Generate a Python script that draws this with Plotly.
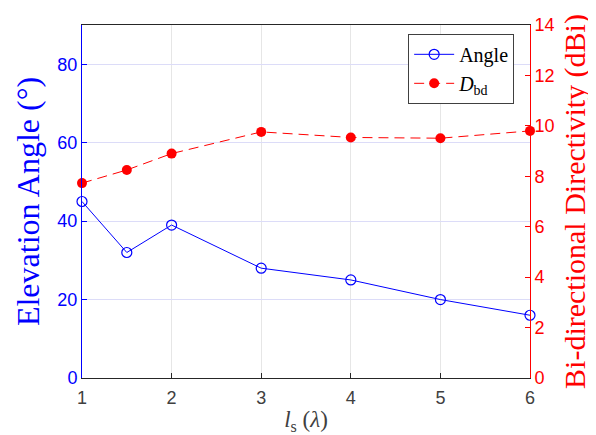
import plotly.graph_objects as go

ls_vals = [1, 1.5, 2, 3, 4, 5, 6]
angle_vals = [45, 32, 39, 28, 25, 20, 16]
dbd_vals = [7.73, 8.25, 8.9, 9.76, 9.54, 9.51, 9.8]

x_ticks = [1, 2, 3, 4, 5, 6]
left_ticks = [0, 20, 40, 60, 80]
right_ticks = [0, 2, 4, 6, 8, 10, 12, 14]

BLUE = "#0000ff"
RED = "#ff0000"
SERIF = "Liberation Serif, DejaVu Serif, serif"
SANS = "Liberation Sans, Arial, sans-serif"

fig = go.Figure()
fig.add_trace(go.Scatter(
    x=ls_vals, y=angle_vals, name="Angle", mode="lines+markers",
    line=dict(color=BLUE, width=1),
    marker=dict(symbol="circle-open", size=10, color=BLUE, line=dict(width=1.2, color=BLUE)),
    cliponaxis=False, yaxis="y",
))
fig.add_trace(go.Scatter(
    x=ls_vals, y=dbd_vals, name="<i>D</i><sub>bd</sub>", mode="lines+markers",
    line=dict(color=RED, width=1, dash="10px,6px"),
    marker=dict(symbol="circle", size=10, color=RED),
    cliponaxis=False, yaxis="y2",
))

# page body has an 8px margin, so the figure is offset by 8px
fig.update_layout(
    width=588, height=427,
    margin=dict(l=73.5, r=66, t=17, b=57, autoexpand=False),
    plot_bgcolor="white", paper_bgcolor="white",
    showlegend=True,
    legend=dict(
        x=0.728, y=0.975, xanchor="left", yanchor="top",
        bgcolor="white", bordercolor="#404040", borderwidth=1,
        font=dict(family=SERIF, size=20, color="#000000"),
        tracegroupgap=0, itemwidth=40,
    ),
    xaxis=dict(
        range=[1, 6], tickvals=x_ticks, ticktext=[str(v) for v in x_ticks],
        showgrid=True, gridcolor="#e6e6e6", gridwidth=1,
        showline=True, linecolor="#262626", linewidth=1, mirror=True,
        ticks="inside", ticklen=5, tickcolor="#262626",
        tickfont=dict(family=SANS, size=18, color="#404040"),
        ticklabelstandoff=3, automargin=False,
        title=dict(text="<i>l</i><sub>s</sub> (<i>λ</i>)", font=dict(family=SERIF, size=23, color="#404040"), standoff=4),
        zeroline=False,
    ),
    yaxis=dict(
        range=[0, 90], tickvals=left_ticks, ticktext=[str(v) for v in left_ticks],
        showgrid=True, gridcolor="#dcdcf8", gridwidth=1,
        showline=True, linecolor=BLUE, linewidth=1,
        ticks="inside", ticklen=5, tickcolor=BLUE,
        tickfont=dict(family=SANS, size=18, color=BLUE), automargin=False,
        title=dict(text="Elevation Angle (°)", font=dict(family=SERIF, size=32, color=BLUE), standoff=8),
        zeroline=False,
    ),
    yaxis2=dict(
        range=[0, 14], tickvals=right_ticks, ticktext=[str(v) for v in right_ticks],
        overlaying="y", side="right",
        showgrid=False,
        showline=True, linecolor=RED, linewidth=1,
        ticks="inside", ticklen=5, tickcolor=RED,
        tickfont=dict(family=SANS, size=18, color=RED), automargin=False,
        title=dict(text="Bi-directional Directivity (dBi)", font=dict(family=SERIF, size=30, color=RED), standoff=10),
        zeroline=False,
    ),
)

fig.write_html("out.html")
